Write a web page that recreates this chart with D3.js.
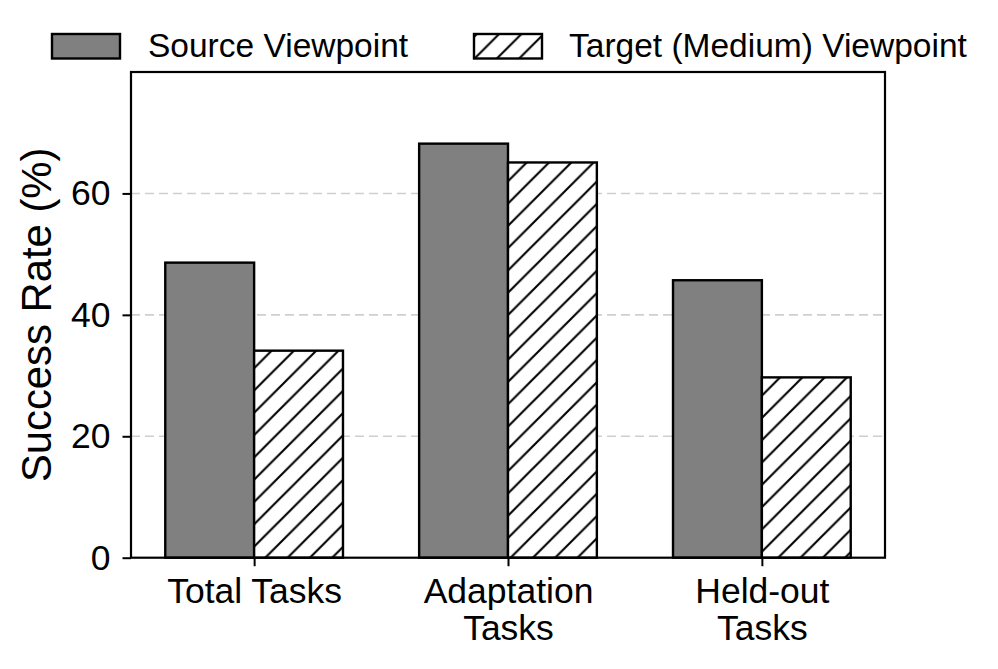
<!doctype html>
<html lang="en">
<head>
  <meta charset="utf-8">
  <style>
    body { margin: 0; background: #fff; }
    svg text { font-family: "Liberation Sans", Arial, Helvetica, sans-serif; fill: #000; }
  </style>
</head>
<body>
  <script src="https://cdn.jsdelivr.net/npm/d3@7"></script>
  <div id="chart"></div>
  <script>
    // Data
    var categories = ["Total Tasks", "Adaptation\nTasks", "Held-out\nTasks"];
    var seriesNames = ["Source Viewpoint", "Target (Medium) Viewpoint"];
    var sourceRates = [48.6, 68.2, 45.7];
    var targetRates = [34.1, 65.1, 29.7];
    var yTicks = [0, 20, 40, 60];

    var width = 998, height = 669;
    var plot = {left: 131, right: 885, top: 72, bottom: 557.7};
    var barW = 0.35;

    var svg = d3.select("#chart").append("svg")
      .attr("width", width)
      .attr("height", height);

    // hatch pattern ("//")
    var defs = svg.append("defs");
    var hs = 22.3;
    var pat = defs.append("pattern")
      .attr("id", "hatch")
      .attr("patternUnits", "userSpaceOnUse")
      .attr("x", 20.2)
      .attr("width", hs).attr("height", hs);
    pat.append("rect").attr("width", hs).attr("height", hs).attr("fill", "#fff");
    pat.append("path")
      .attr("d", "M0," + hs + " L" + hs + ",0 M" + (-hs/2) + "," + (hs/2) + " L" + (hs/2) + "," + (-hs/2)
        + " M" + (hs/2) + "," + (hs*1.5) + " L" + (hs*1.5) + "," + (hs/2))
      .attr("stroke", "#000")
      .attr("stroke-width", 2.1);

    var x = d3.scaleLinear().domain([-0.485, 2.485]).range([plot.left, plot.right]);
    var y = d3.scaleLinear().domain([0, 80]).range([plot.bottom, plot.top]);

    // grid
    svg.append("g").selectAll("line").data(yTicks.filter(function(d) { return d > 0; }))
      .enter().append("line")
      .attr("x1", plot.left).attr("x2", plot.right)
      .attr("y1", function(d) { return y(d); })
      .attr("y2", function(d) { return y(d); })
      .attr("stroke", "#cfcfcf")
      .attr("stroke-width", 1.6)
      .attr("stroke-dasharray", "9,5");

    // bars
    var bars = svg.append("g");
    bars.selectAll("rect.src").data(sourceRates).enter().append("rect")
      .attr("class", "src")
      .attr("x", function(d, i) { return x(i - barW); })
      .attr("y", function(d) { return y(d); })
      .attr("width", function(d, i) { return x(i) - x(i - barW); })
      .attr("height", function(d) { return y(0) - y(d); })
      .attr("fill", "#808080")
      .attr("stroke", "#000")
      .attr("stroke-width", 2.4);
    bars.selectAll("rect.tgt").data(targetRates).enter().append("rect")
      .attr("class", "tgt")
      .attr("x", function(d, i) { return x(i); })
      .attr("y", function(d) { return y(d); })
      .attr("width", function(d, i) { return x(i + barW) - x(i); })
      .attr("height", function(d) { return y(0) - y(d); })
      .attr("fill", "url(#hatch)")
      .attr("stroke", "#000")
      .attr("stroke-width", 2.4);

    // axes
    var xAxis = svg.append("g")
      .attr("transform", "translate(0," + plot.bottom + ")")
      .call(d3.axisBottom(x).tickValues([0, 1, 2]).tickSize(8.5).tickSizeOuter(0).tickPadding(11.5)
        .tickFormat(function(d) { return categories[d]; }));
    xAxis.select(".domain").remove();
    xAxis.selectAll(".tick line").attr("stroke", "#000").attr("stroke-width", 2);
    xAxis.selectAll(".tick text")
      .style("font-size", "35.5px")
      .each(function(d) {
        var t = d3.select(this);
        var lines = categories[d].split("\n");
        t.text(null);
        lines.forEach(function(s, k) {
          t.append("tspan").attr("x", 0).attr("dy", k === 0 ? "0.71em" : "1.05em").text(s);
        });
      });

    var yAxis = svg.append("g")
      .attr("transform", "translate(" + plot.left + ",0)")
      .call(d3.axisLeft(y).tickValues(yTicks).tickSize(8.5).tickSizeOuter(0).tickPadding(12));
    yAxis.select(".domain").remove();
    yAxis.selectAll(".tick line").attr("stroke", "#000").attr("stroke-width", 2);
    yAxis.selectAll(".tick text").style("font-size", "35.5px");

    // frame
    svg.append("rect")
      .attr("x", plot.left).attr("y", plot.top)
      .attr("width", plot.right - plot.left).attr("height", plot.bottom - plot.top)
      .attr("fill", "none").attr("stroke", "#000").attr("stroke-width", 2.2);

    // y label
    svg.append("text")
      .attr("transform", "translate(51," + ((plot.top + plot.bottom) / 2) + ") rotate(-90)")
      .attr("text-anchor", "middle")
      .style("font-size", "41.8px")
      .text("Success Rate (%)");

    // legend
    var legendPos = [{px: 52, tx: 148}, {px: 474, tx: 569}];
    var legend = svg.append("g").selectAll("g").data(seriesNames).enter().append("g");
    legend.append("rect")
      .attr("x", function(d, i) { return legendPos[i].px; })
      .attr("y", 34).attr("width", 68).attr("height", 24.5)
      .attr("fill", function(d, i) { return i === 0 ? "#808080" : "url(#hatch)"; })
      .attr("stroke", "#000").attr("stroke-width", 2.4);
    legend.append("text")
      .attr("x", function(d, i) { return legendPos[i].tx; })
      .attr("y", 57)
      .style("font-size", "33.5px")
      .text(function(d) { return d; });
  </script>
</body>
</html>
